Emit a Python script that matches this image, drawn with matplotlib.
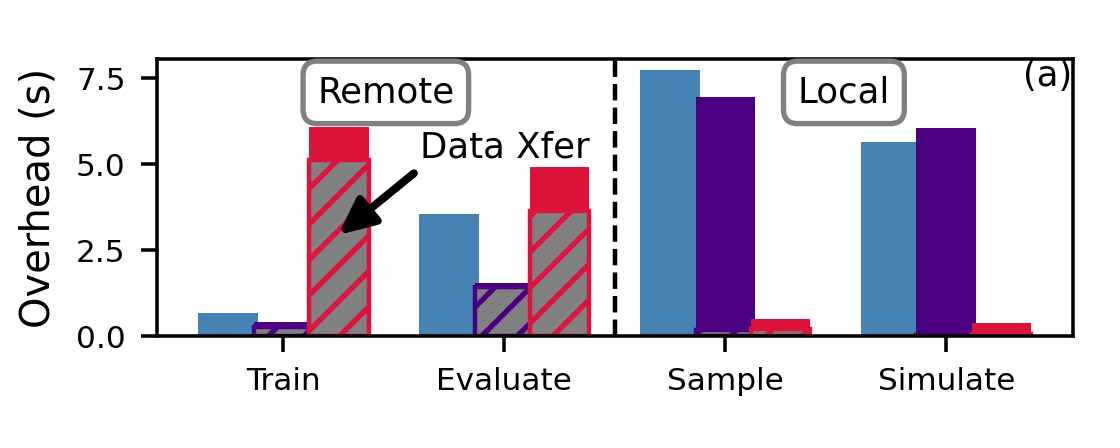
import numpy as np
import matplotlib
matplotlib.use('Agg')
import matplotlib.pyplot as plt

stages = ['Train', 'Evaluate', 'Sample', 'Simulate']
colors = ['steelblue', 'indigo', 'crimson']

# total overhead per stage, one list per series
total_a = [0.68, 3.54, 7.73, 5.65]
total_b = [0.42, 1.55, 6.96, 6.06]
total_c = [6.08, 4.90, 0.49, 0.39]

# data transfer part of the overhead (hatched)
xfer_a = [0.0, 0.0, 0.0, 0.0]
xfer_b = [0.27, 1.43, 0.18, 0.04]
xfer_c = [5.12, 3.62, 0.20, 0.06]

yticks = [0.0, 2.5, 5.0, 7.5]

totals = [total_a, total_b, total_c]
xfers = [xfer_a, xfer_b, xfer_c]

plt.rcParams['hatch.linewidth'] = 1.2

fig = plt.figure(figsize=(3.5, 1.4), dpi=320)
ax = fig.add_subplot(111)
fig.subplots_adjust(left=0.140, right=0.958, top=0.868, bottom=0.25)

x = np.arange(len(stages))
w = 0.27
step = 0.25
for i in range(3):
    pos = x + (i - 1) * step
    ax.bar(pos, totals[i], w, color=colors[i])
    ax.bar(pos, xfers[i], w, color='gray', edgecolor=colors[i], hatch='///', linewidth=1)

ax.axvline(1.5, color='black', linestyle='--', linewidth=1)
ax.set_ylim(0, 8.05)
ax.set_yticks(yticks)

ax.set_xticks(x)
ax.set_xticklabels(stages, fontsize=7)
ax.tick_params(axis='y', labelsize=7)
ax.set_ylabel('Overhead (s)', fontsize=9)

box = dict(boxstyle='round,pad=0.4', facecolor='white', edgecolor='gray', linewidth=1.2)
ax.text(0.25, 0.88, 'Remote', transform=ax.transAxes, ha='center', va='center', fontsize=8, bbox=box)
ax.text(0.75, 0.88, 'Local', transform=ax.transAxes, ha='center', va='center', fontsize=8, bbox=box)
ax.text(0.999, 1.0, '(a)', transform=ax.transAxes, ha='right', va='top', fontsize=8)

ax.text(1.0, 5.48, 'Data Xfer', ha='center', va='center', fontsize=8)
ax.annotate('', xy=(0.248, 2.94), xytext=(0.59, 4.73),
            arrowprops=dict(arrowstyle='-|>,head_width=0.35,head_length=0.75',
                            color='black', lw=1.8, mutation_scale=9,
                            shrinkA=0, shrinkB=0, capstyle='round'))

fig.savefig('out.png', dpi=320)
